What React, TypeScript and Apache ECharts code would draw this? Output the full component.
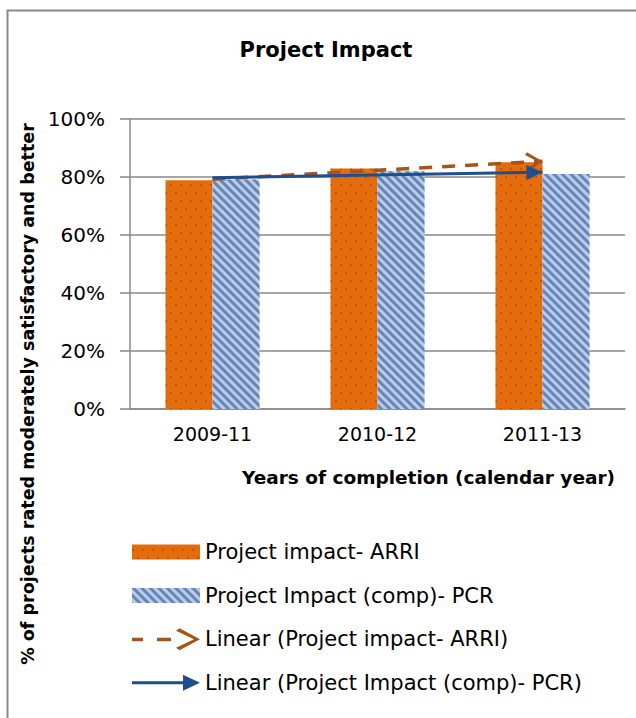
import React, { useEffect, useRef } from "react";
import * as echarts from "echarts";

const categories = ["2009-11", "2010-12", "2011-13"];
const arriValues = [78.9, 82.9, 85.1];
const pcrValues = [79.1, 82.0, 81.0];
const seriesNames = [
  "Project impact- ARRI",
  "Project Impact (comp)- PCR",
  "Linear (Project impact- ARRI)",
  "Linear (Project Impact (comp)- PCR)",
];
const chartTitle = "Project Impact";
const xTitle = "Years of completion (calendar year)";
const yTitle = "% of projects rated moderately satisfactory and better";

// least-squares trendline (as Excel's "Linear" trendline) evaluated at first and last category
function linearTrend(values: number[]): [number, number] {
  const n = values.length;
  const xs = values.map((_, i) => i);
  const mx = xs.reduce((a, b) => a + b, 0) / n;
  const my = values.reduce((a, b) => a + b, 0) / n;
  let num = 0;
  let den = 0;
  for (let i = 0; i < n; i++) {
    num += (xs[i] - mx) * (values[i] - my);
    den += (xs[i] - mx) * (xs[i] - mx);
  }
  const slope = num / den;
  const b = my - slope * mx;
  return [b, b + slope * (n - 1)];
}

const FONT = "DejaVu Sans";
const GRAY = "#898989";
const ORANGE = "#E46C0A";
const BROWN = "#A5541B";
const NAVY = "#1F4E8C";

export default function App() {
  const ref = useRef<HTMLDivElement>(null);
  useEffect(() => {
    if (!ref.current) return;
    const chart = echarts.init(ref.current, null, { renderer: "svg" });
    const arriTrend = linearTrend(arriValues);
    const pcrTrend = linearTrend(pcrValues);
    const last = categories.length - 1;

    const option: any = {
      animation: false,
      backgroundColor: "#ffffff",
      grid: { left: 130, right: 11, top: 119, bottom: 309, containLabel: false },
      xAxis: {
        type: "category",
        data: categories,
        axisLine: { show: true, lineStyle: { color: GRAY, width: 1.5 } },
        axisTick: { show: false },
        axisLabel: { color: "#000", fontFamily: FONT, fontSize: 19, margin: 15 },
      },
      yAxis: {
        type: "value",
        min: 0,
        max: 100,
        interval: 20,
        axisLine: { show: true, lineStyle: { color: GRAY, width: 1.5 } },
        axisTick: { show: true, length: 10, lineStyle: { color: GRAY, width: 1.5 } },
        splitLine: { show: true, lineStyle: { color: GRAY, width: 1.5 } },
        axisLabel: {
          color: "#000",
          fontFamily: FONT,
          fontSize: 20,
          margin: 25,
          formatter: "{value}%",
        },
      },
      legend: {
        orient: "vertical",
        left: 127,
        top: 536,
        itemWidth: 68,
        itemHeight: 22,
        itemGap: 21.6,
        selectedMode: false,
        itemStyle: { borderWidth: 0 },
        textStyle: { color: "#000", fontFamily: FONT, fontSize: 21, lineHeight: 22 },
        data: [
          { name: seriesNames[0], icon: "path://M0,0h68v15h-68z" },
          { name: seriesNames[1], icon: "path://M0,0h68v15h-68z" },
          {
            name: seriesNames[2],
            icon: "path://M0,9.5h11v3.5h-11z M25,9.5h14v3.5h-14z M44,2.5L47.5,0L68,11L47.5,22L44,19.5L62,11z",
          },
          { name: seriesNames[3], icon: "path://M0,6.5h52v3h-52z M51,0L68,8L51,16z" },
        ],
      },
      series: [
        {
          name: seriesNames[0],
          type: "bar",
          data: arriValues,
          barWidth: 47,
          barGap: "0%",
          itemStyle: {
            color: ORANGE,
            decal: {
              symbol: "circle",
              symbolSize: 0.8,
              color: "rgba(120,45,0,0.6)",
              dashArrayX: [
                [2, 8],
                [0, 5, 2, 3],
              ],
              dashArrayY: [2, 6],
            },
          },
          emphasis: { disabled: true },
        },
        {
          name: seriesNames[1],
          type: "bar",
          data: pcrValues,
          barWidth: 47,
          barGap: "0%",
          itemStyle: {
            color: "#C4CADB",
            decal: {
              symbol: "rect",
              symbolSize: 1,
              color: "#5D88C6",
              dashArrayX: [[1, 0]],
              dashArrayY: [3, 3],
              rotation: Math.PI / 4,
            },
          },
          emphasis: { disabled: true },
        },
        {
          name: seriesNames[2],
          type: "line",
          data: [],
          color: BROWN,
          lineStyle: { color: BROWN, width: 3 },
          markLine: {
            silent: true,
            symbol: ["none", "path://M11,0L22,19L19,21.5L11,6.5L3,21.5L0,19z"],
            symbolSize: [20, 17],
            symbolOffset: [0, [0, 8.5]],
            lineStyle: { color: BROWN, width: 3.5, type: [13, 10] },
            label: { show: false },
            emphasis: { disabled: true },
            data: [[{ coord: [0, arriTrend[0]] }, { coord: [last, arriTrend[1]] }]],
          },
        },
        {
          name: seriesNames[3],
          type: "line",
          data: [],
          color: NAVY,
          lineStyle: { color: NAVY, width: 3 },
          markLine: {
            silent: true,
            symbol: ["none", "triangle"],
            symbolSize: [15, 16],
            symbolOffset: [0, [0, 8]],
            lineStyle: { color: NAVY, width: 3, type: "solid" },
            label: { show: false },
            emphasis: { disabled: true },
            data: [[{ coord: [0, pcrTrend[0]] }, { coord: [last, pcrTrend[1]] }]],
          },
        },
      ],
      graphic: [
        {
          type: "rect",
          silent: true,
          shape: { x: 7.5, y: 10.5, width: 800, height: 900 },
          style: { fill: "none", stroke: GRAY, lineWidth: 2 },
        },
        {
          type: "text",
          x: 326,
          y: 50,
          style: {
            text: chartTitle,
            fontFamily: FONT,
            fontWeight: "bold",
            fontSize: 21,
            fill: "#000",
            align: "center",
            verticalAlign: "middle",
          },
        },
        {
          type: "text",
          x: 615,
          y: 477,
          style: {
            text: xTitle,
            fontFamily: FONT,
            fontWeight: "bold",
            fontSize: 18.5,
            fill: "#000",
            align: "right",
            verticalAlign: "middle",
          },
        },
        {
          type: "text",
          x: 28,
          y: 394,
          rotation: Math.PI / 2,
          style: {
            text: yTitle,
            fontFamily: FONT,
            fontWeight: "bold",
            fontSize: 17.5,
            fill: "#000",
            align: "center",
            verticalAlign: "middle",
          },
        },
      ],
    };
    chart.setOption(option);
    return () => chart.dispose();
  }, []);
  return (
    <div
      ref={ref}
      style={{ position: "absolute", left: 0, top: 0, width: 636, height: 718 }}
    />
  );
}
